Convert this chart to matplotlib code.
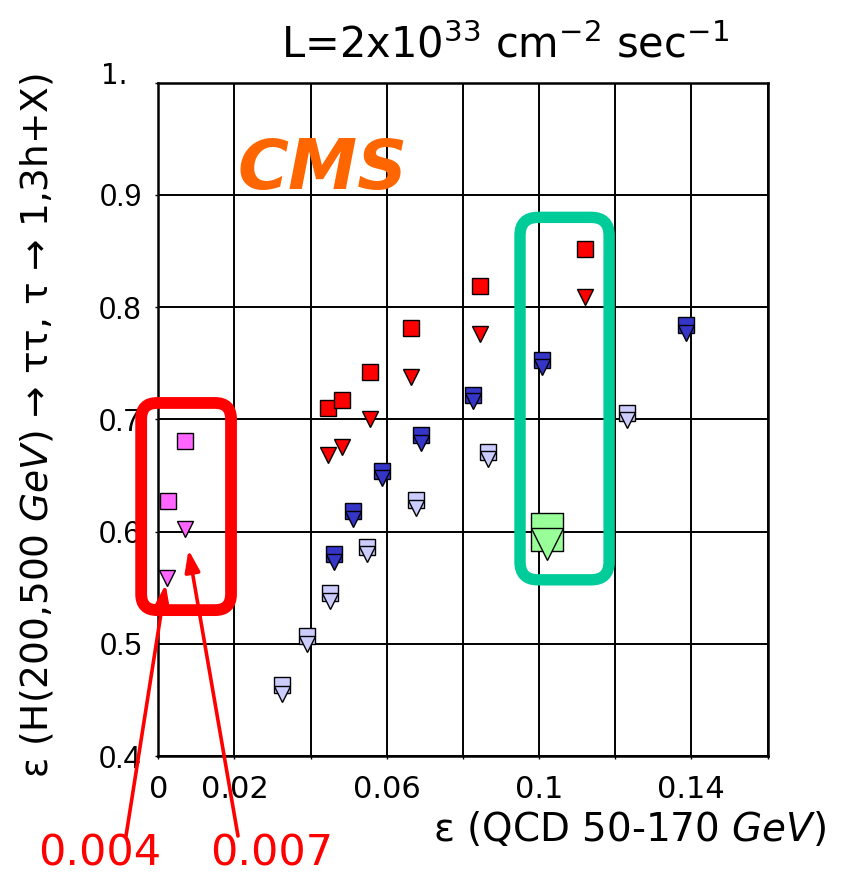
import matplotlib
matplotlib.use("Agg")
import matplotlib.pyplot as plt
import numpy as np
from matplotlib.patches import FancyBboxPatch
from matplotlib.transforms import IdentityTransform
from matplotlib.path import Path

# ---------------- data ----------------
# magenta (inside red box)
mag_sq_x = [0.0071, 0.0025]
mag_sq_y = [0.681, 0.627]
mag_tri_x = [0.0070, 0.0022]
mag_tri_y = [0.602, 0.559]

# red series
red_sq_x = [0.0445, 0.0482, 0.0556, 0.0664, 0.0844, 0.1121]
red_sq_y = [0.710, 0.717, 0.742, 0.781, 0.819, 0.852]
red_tri_x = [0.0445, 0.0482, 0.0555, 0.0664, 0.0846, 0.1121]
red_tri_y = [0.668, 0.675, 0.700, 0.738, 0.776, 0.809]

# dark blue series
blue_x = [0.0461, 0.0512, 0.0588, 0.0689, 0.0826, 0.1009, 0.1387]
blue_sq_y = [0.580, 0.618, 0.654, 0.686, 0.722, 0.753, 0.784]
blue_tri_y = [0.573, 0.611, 0.648, 0.679, 0.716, 0.747, 0.777]

# light lavender series
lav_x = [0.0326, 0.0391, 0.0452, 0.0547, 0.0678, 0.0867, 0.1232]
lav_sq_y = [0.463, 0.507, 0.545, 0.586, 0.628, 0.671, 0.706]
lav_tri_y = [0.455, 0.500, 0.538, 0.580, 0.621, 0.665, 0.699]

# green (large marker)
green_x = [0.1021]
green_sq_y = [0.600]
green_tri_y = [0.589]

x_ticks = [0.0, 0.02, 0.04, 0.06, 0.08, 0.10, 0.12, 0.14, 0.16]
x_ticklabels = ["0", "0.02", "", "0.06", "", "0.1", "", "0.14", ""]
y_ticks = [0.4, 0.5, 0.6, 0.7, 0.8, 0.9, 1.0]
y_ticklabels = ["0.4", "0.5", "0.6", "0.7", "0.8", "0.9", ""]

# ---------------- figure ----------------
W, H = 842, 874
fig = plt.figure(figsize=(W / 100, H / 100), dpi=100)
L, R, T, B = 158.3, 767.5, 82.7, 756.0
ax = fig.add_axes([L / W, 1 - B / H, (R - L) / W, (B - T) / H])
ax.set_xlim(0, 0.16)
ax.set_ylim(0.4, 1.0)

ax.set_xticks(x_ticks)
ax.set_xticklabels(x_ticklabels)
ax.set_yticks(y_ticks)
ax.set_yticklabels(y_ticklabels)
ax.grid(True, color="black", lw=1.4)
ax.set_axisbelow(True)
for s in ax.spines.values():
    s.set_linewidth(1.8)
ax.tick_params(axis="x", length=2, width=1, pad=12, labelsize=22)
ax.tick_params(axis="y", length=2, width=1, pad=10, labelsize=22,
               labelfontfamily="Liberation Sans")

ms = 11.5
mew = 1.0
def pts(x, y, marker, color, size=ms, z=3):
    ax.plot(x, y, linestyle="none", marker=marker, ms=size, mfc=color,
            mec="black", mew=mew, zorder=z, clip_on=False)

pts(red_sq_x, red_sq_y, "s", "#FF0000")
pts(red_tri_x, red_tri_y, "v", "#FF0000")
pts(blue_x, blue_sq_y, "s", "#3535C8")
pts(blue_x, blue_tri_y, "v", "#3535C8")
pts(lav_x, lav_sq_y, "s", "#CCCCFF")
pts(lav_x, lav_tri_y, "v", "#CCCCFF")
pts(mag_sq_x, mag_sq_y, "s", "#FF66FF")
pts(mag_tri_x, mag_tri_y, "v", "#FF66FF")

rect = Path([(-0.41, -0.5), (0.41, -0.5), (0.41, 0.5), (-0.41, 0.5), (-0.41, -0.5)],
            [Path.MOVETO, Path.LINETO, Path.LINETO, Path.LINETO, Path.CLOSEPOLY])
pts(green_x, green_sq_y, rect, "#99FF99", size=28, z=4)
pts(green_x, green_tri_y, "v", "#99FF99", size=23, z=5)

# ---------------- highlight boxes ----------------
def box(x0, y0, x1, y1, color, lw, rs):
    (px0, py0), (px1, py1) = ax.transData.transform([(x0, y0), (x1, y1)])
    p = FancyBboxPatch((px0, py0), px1 - px0, py1 - py0,
                       boxstyle=f"round,pad=0,rounding_size={rs}",
                       transform=IdentityTransform(), fill=False,
                       ec=color, lw=lw, zorder=10)
    fig.add_artist(p)

box(-0.0045, 0.530, 0.0191, 0.7146, "#FF0000", 8.5, 16)
box(0.0950, 0.557, 0.1184, 0.880, "#00CC99", 8.2, 18)

# ---------------- arrows & labels ----------------
ax.annotate("", xy=(mag_tri_x[1], mag_tri_y[1]), xycoords="data",
            xytext=(126, H - 836), textcoords="figure pixels",
            arrowprops=dict(arrowstyle="-|>,head_length=1.3,head_width=0.45",
                            color="#FF0000", lw=2.6, shrinkA=0, shrinkB=5,
                            mutation_scale=10), annotation_clip=False, zorder=11)
ax.annotate("", xy=(mag_tri_x[0], mag_tri_y[0]), xycoords="data",
            xytext=(238, H - 836), textcoords="figure pixels",
            arrowprops=dict(arrowstyle="-|>,head_length=1.3,head_width=0.45",
                            color="#FF0000", lw=2.6, shrinkA=0, shrinkB=15,
                            mutation_scale=10), annotation_clip=False, zorder=11)

fig.text(100 / W, 1 - 853 / H, "0.004", color="#FF0000", fontsize=31,
         ha="center", va="center")
fig.text(272 / W, 1 - 853 / H, "0.007", color="#FF0000", fontsize=31,
         ha="center", va="center")

fig.text(114 / W, 1 - 76 / H, "1.", fontsize=20, ha="center", va="center")

fig.text(505 / W, 1 - 45 / H,
         r"L=2x10$^{33}$ cm$^{-2}$ sec$^{-1}$", fontsize=30,
         ha="center", va="center")

fig.text(323 / W, 1 - 170 / H, "CMS", color="#FF6600", fontsize=50,
         fontweight="bold", fontstyle="italic", ha="center", va="center")

fig.text(630 / W, 1 - 830 / H, r"ε (QCD 50-170 $\mathit{GeV}$)",
         fontsize=28, ha="center", va="center")

fig.text(37 / W, 1 - 425 / H,
         r"ε (H(200,500 $\mathit{GeV}$) → ττ, τ → 1,3h+X)",
         fontsize=27, rotation=90, ha="center", va="center")

fig.savefig("out.png", dpi=100)
